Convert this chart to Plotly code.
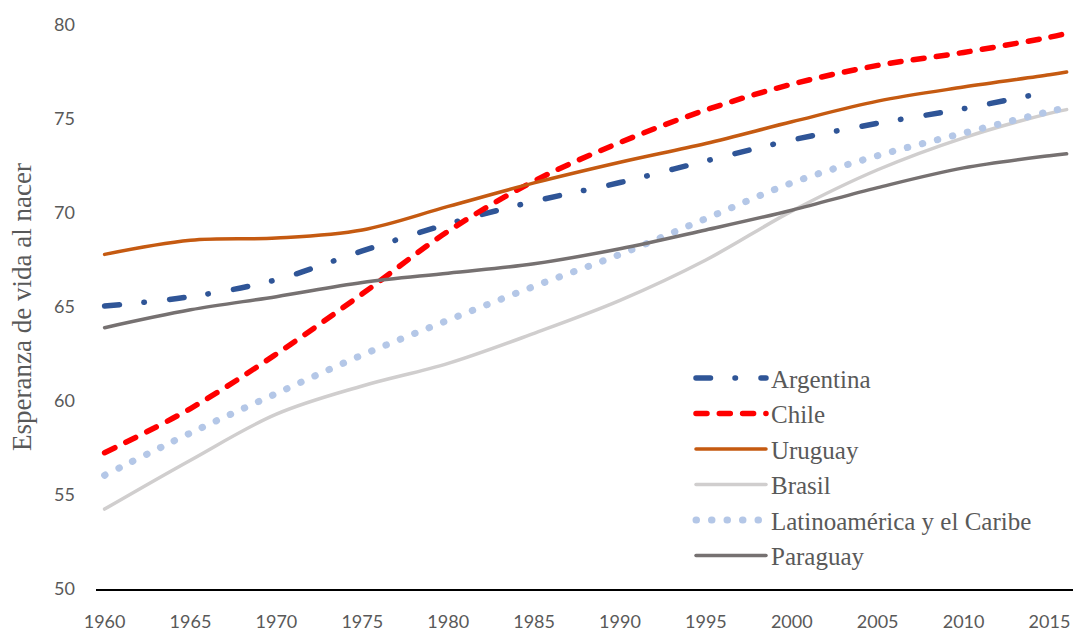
import plotly.graph_objects as go

years = [1960, 1965, 1970, 1975, 1980, 1985, 1990, 1995, 2000, 2005, 2010, 2015, 2016]

argentina = [65.05, 65.55, 66.45, 67.98, 69.42, 70.62, 71.62, 72.77, 73.88, 74.77, 75.55, 76.46, None]
chile = [57.25, 59.6, 62.5, 65.7, 69.03, 71.7, 73.75, 75.48, 76.85, 77.85, 78.54, 79.35, 79.55]
uruguay = [67.8, 68.55, 68.67, 69.1, 70.35, 71.6, 72.7, 73.7, 74.85, 75.95, 76.7, 77.35, 77.5]
brasil = [54.25, 56.85, 59.3, 60.8, 62.0, 63.6, 65.35, 67.5, 70.1, 72.3, 74.0, 75.3, 75.5]
lac = [56.05, 58.3, 60.4, 62.45, 64.3, 66.1, 67.8, 69.7, 71.6, 73.05, 74.25, 75.4, 75.6]
paraguay = [63.9, 64.85, 65.55, 66.3, 66.8, 67.3, 68.1, 69.1, 70.15, 71.35, 72.4, 73.05, 73.15]

series_names = ["Argentina", "Chile", "Uruguay", "Brasil", "Latinoamérica y el Caribe", "Paraguay"]
series_values = [argentina, chile, uruguay, brasil, lac, paraguay]
styles = [
    dict(color="#2F5597", width=5.5, dash="14.5px,24.5px,0.5px,25.5px"),
    dict(color="#FF0000", width=5.5, dash="11px,12.3px"),
    dict(color="#C55A11", width=3.5, dash="solid"),
    dict(color="#D0CECE", width=3.5, dash="solid"),
    dict(color="#B4C7E7", width=7, dash="0.5px,15px"),
    dict(color="#767171", width=3.5, dash="solid"),
]

fig = go.Figure()
for name, vals, st in zip(series_names, series_values, styles):
    fig.add_trace(go.Scatter(
        x=years, y=vals, name=name, mode="lines",
        line=dict(color=st["color"], width=st["width"], dash=st["dash"], shape="spline", smoothing=1.0),
        connectgaps=False,
    ))

fig.update_layout(
    width=1073, height=633,
    margin=dict(l=96, r=0, t=25, b=43.5),
    paper_bgcolor="white", plot_bgcolor="white",
    showlegend=True,
    legend=dict(
        x=0.609, y=0.4145, xanchor="left", yanchor="top",
        bgcolor="rgba(0,0,0,0)",
        font=dict(family="Liberation Serif", size=25, color="#595959"),
        itemwidth=70,
        tracegroupgap=0,
    ),
)
fig.update_xaxes(
    range=[1959.5, 2016.37],
    tickmode="array", tickvals=[1960, 1965, 1970, 1975, 1980, 1985, 1990, 1995, 2000, 2005, 2010, 2015],
    ticktext=["1960", "1965", "1970", "1975", "1980", "1985", "1990", "1995", "2000", "2005", "2010", "2015"],
    showgrid=False, zeroline=False,
    showline=True, linecolor="#000000", linewidth=1.6,
    ticks="", ticklabelstandoff=16,
    tickfont=dict(family="Lato", size=18, color="#595959"),
)
fig.update_yaxes(
    range=[50, 80],
    tickvals=[50, 55, 60, 65, 70, 75, 80],
    showgrid=False, zeroline=False, showline=False,
    ticks="", ticklabelstandoff=20,
    tickfont=dict(family="Lato", size=18, color="#595959"),
    title=dict(text="Esperanza de vida al nacer", standoff=14,
               font=dict(family="Liberation Serif", size=27, color="#595959")),
)

fig.write_html(
    "out.html",
    config={"displayModeBar": False},
    post_script=(
        "document.body.style.margin='0';document.body.style.overflow='hidden';"
        "document.querySelectorAll('path.js-line').forEach(function(p){p.style.strokeLinecap='round';});"
    ),
)
